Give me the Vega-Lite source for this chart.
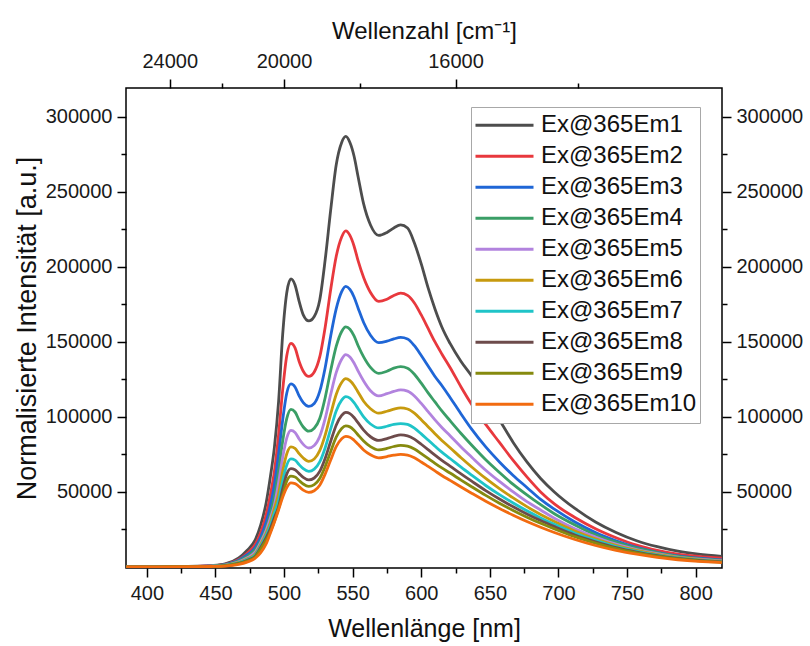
{
  "$schema": "https://vega.github.io/schema/vega-lite/v6.json",
  "width": 596,
  "height": 480,
  "autosize": {"type": "none"},
  "padding": {"left": 126, "top": 88, "right": 88, "bottom": 78},
  "background": "white",
  "config": {
    "font": "Liberation Sans",
    "view": {"stroke": "#000", "strokeWidth": 1.5},
    "axis": {
      "domain": false, "grid": false, "tickColor": "#000", "tickWidth": 1.5,
      "labelFont": "Liberation Sans", "labelFontSize": 20, "labelColor": "#1a1a1a",
      "titleFont": "Liberation Sans", "titleFontSize": 24, "titleFontWeight": "normal", "titleColor": "#111",
      "labelOverlap": false, "labelFlush": false
    }
  },
  "data": {"values": [
    {"wl":385,"Ex@365Em1":0,"Ex@365Em2":0,"Ex@365Em3":0,"Ex@365Em4":0,"Ex@365Em5":0,"Ex@365Em6":0,"Ex@365Em7":0,"Ex@365Em8":0,"Ex@365Em9":0,"Ex@365Em10":0},
    {"wl":397,"Ex@365Em1":100,"Ex@365Em2":100,"Ex@365Em3":100,"Ex@365Em4":100,"Ex@365Em5":100,"Ex@365Em6":80,"Ex@365Em7":80,"Ex@365Em8":70,"Ex@365Em9":60,"Ex@365Em10":50},
    {"wl":417,"Ex@365Em1":200,"Ex@365Em2":200,"Ex@365Em3":200,"Ex@365Em4":200,"Ex@365Em5":150,"Ex@365Em6":150,"Ex@365Em7":150,"Ex@365Em8":130,"Ex@365Em9":120,"Ex@365Em10":100},
    {"wl":437,"Ex@365Em1":500,"Ex@365Em2":450,"Ex@365Em3":400,"Ex@365Em4":350,"Ex@365Em5":300,"Ex@365Em6":300,"Ex@365Em7":280,"Ex@365Em8":250,"Ex@365Em9":230,"Ex@365Em10":200},
    {"wl":447,"Ex@365Em1":900,"Ex@365Em2":800,"Ex@365Em3":700,"Ex@365Em4":600,"Ex@365Em5":550,"Ex@365Em6":500,"Ex@365Em7":450,"Ex@365Em8":400,"Ex@365Em9":350,"Ex@365Em10":300},
    {"wl":457,"Ex@365Em1":2000,"Ex@365Em2":1800,"Ex@365Em3":1600,"Ex@365Em4":1400,"Ex@365Em5":1200,"Ex@365Em6":1100,"Ex@365Em7":1000,"Ex@365Em8":900,"Ex@365Em9":800,"Ex@365Em10":600},
    {"wl":467,"Ex@365Em1":6000,"Ex@365Em2":5000,"Ex@365Em3":4500,"Ex@365Em4":4000,"Ex@365Em5":3500,"Ex@365Em6":3000,"Ex@365Em7":2700,"Ex@365Em8":2400,"Ex@365Em9":2200,"Ex@365Em10":1700},
    {"wl":473,"Ex@365Em1":11000,"Ex@365Em2":9000,"Ex@365Em3":8000,"Ex@365Em4":7000,"Ex@365Em5":6000,"Ex@365Em6":5300,"Ex@365Em7":4800,"Ex@365Em8":4300,"Ex@365Em9":3900,"Ex@365Em10":3200},
    {"wl":479,"Ex@365Em1":18000,"Ex@365Em2":15000,"Ex@365Em3":13000,"Ex@365Em4":11500,"Ex@365Em5":10000,"Ex@365Em6":8800,"Ex@365Em7":8000,"Ex@365Em8":7200,"Ex@365Em9":6600,"Ex@365Em10":5800},
    {"wl":483,"Ex@365Em1":28000,"Ex@365Em2":23000,"Ex@365Em3":20000,"Ex@365Em4":17500,"Ex@365Em5":16500,"Ex@365Em6":15000,"Ex@365Em7":14000,"Ex@365Em8":13000,"Ex@365Em9":12000,"Ex@365Em10":9500},
    {"wl":487,"Ex@365Em1":43000,"Ex@365Em2":35000,"Ex@365Em3":30000,"Ex@365Em4":26000,"Ex@365Em5":24500,"Ex@365Em6":22500,"Ex@365Em7":21000,"Ex@365Em8":19500,"Ex@365Em9":18000,"Ex@365Em10":15500},
    {"wl":490,"Ex@365Em1":60000,"Ex@365Em2":48000,"Ex@365Em3":41000,"Ex@365Em4":35000,"Ex@365Em5":32500,"Ex@365Em6":29500,"Ex@365Em7":27500,"Ex@365Em8":25500,"Ex@365Em9":23500,"Ex@365Em10":22500},
    {"wl":493,"Ex@365Em1":80000,"Ex@365Em2":64000,"Ex@365Em3":55000,"Ex@365Em4":47000,"Ex@365Em5":41500,"Ex@365Em6":39000,"Ex@365Em7":36000,"Ex@365Em8":33000,"Ex@365Em9":30500,"Ex@365Em10":30000},
    {"wl":496,"Ex@365Em1":110000,"Ex@365Em2":88000,"Ex@365Em3":75000,"Ex@365Em4":64000,"Ex@365Em5":56000,"Ex@365Em6":49000,"Ex@365Em7":44000,"Ex@365Em8":40000,"Ex@365Em9":39000,"Ex@365Em10":38000},
    {"wl":499,"Ex@365Em1":155000,"Ex@365Em2":118000,"Ex@365Em3":98000,"Ex@365Em4":84000,"Ex@365Em5":73000,"Ex@365Em6":64000,"Ex@365Em7":57500,"Ex@365Em8":52000,"Ex@365Em9":48000,"Ex@365Em10":46500},
    {"wl":502,"Ex@365Em1":183000,"Ex@365Em2":141000,"Ex@365Em3":116000,"Ex@365Em4":99000,"Ex@365Em5":86000,"Ex@365Em6":75500,"Ex@365Em7":68000,"Ex@365Em8":62000,"Ex@365Em9":57300,"Ex@365Em10":53000},
    {"wl":505,"Ex@365Em1":192000,"Ex@365Em2":149000,"Ex@365Em3":122000,"Ex@365Em4":105000,"Ex@365Em5":91000,"Ex@365Em6":80000,"Ex@365Em7":72000,"Ex@365Em8":65500,"Ex@365Em9":60500,"Ex@365Em10":56000},
    {"wl":508,"Ex@365Em1":188000,"Ex@365Em2":146000,"Ex@365Em3":120000,"Ex@365Em4":103300,"Ex@365Em5":89700,"Ex@365Em6":79000,"Ex@365Em7":71200,"Ex@365Em8":64800,"Ex@365Em9":60000,"Ex@365Em10":55600},
    {"wl":511,"Ex@365Em1":177000,"Ex@365Em2":137000,"Ex@365Em3":114000,"Ex@365Em4":97700,"Ex@365Em5":85300,"Ex@365Em6":75500,"Ex@365Em7":68200,"Ex@365Em8":62200,"Ex@365Em9":57600,"Ex@365Em10":53500},
    {"wl":514,"Ex@365Em1":168000,"Ex@365Em2":130500,"Ex@365Em3":109500,"Ex@365Em4":93300,"Ex@365Em5":81700,"Ex@365Em6":72600,"Ex@365Em7":65500,"Ex@365Em8":59700,"Ex@365Em9":55300,"Ex@365Em10":51200},
    {"wl":518,"Ex@365Em1":164000,"Ex@365Em2":127000,"Ex@365Em3":107000,"Ex@365Em4":90500,"Ex@365Em5":79300,"Ex@365Em6":70400,"Ex@365Em7":63700,"Ex@365Em8":58000,"Ex@365Em9":53700,"Ex@365Em10":49700},
    {"wl":522,"Ex@365Em1":167000,"Ex@365Em2":130000,"Ex@365Em3":109000,"Ex@365Em4":92500,"Ex@365Em5":81000,"Ex@365Em6":72000,"Ex@365Em7":65200,"Ex@365Em8":59300,"Ex@365Em9":54900,"Ex@365Em10":50800},
    {"wl":526,"Ex@365Em1":178000,"Ex@365Em2":140000,"Ex@365Em3":117000,"Ex@365Em4":99000,"Ex@365Em5":87000,"Ex@365Em6":77500,"Ex@365Em7":70000,"Ex@365Em8":63700,"Ex@365Em9":59000,"Ex@365Em10":54500},
    {"wl":530,"Ex@365Em1":205000,"Ex@365Em2":160000,"Ex@365Em3":133000,"Ex@365Em4":113000,"Ex@365Em5":99000,"Ex@365Em6":88000,"Ex@365Em7":79500,"Ex@365Em8":72500,"Ex@365Em9":67000,"Ex@365Em10":62000},
    {"wl":534,"Ex@365Em1":238000,"Ex@365Em2":185000,"Ex@365Em3":154000,"Ex@365Em4":131000,"Ex@365Em5":115000,"Ex@365Em6":102000,"Ex@365Em7":92000,"Ex@365Em8":83800,"Ex@365Em9":77000,"Ex@365Em10":71300},
    {"wl":538,"Ex@365Em1":268000,"Ex@365Em2":207000,"Ex@365Em3":172000,"Ex@365Em4":147000,"Ex@365Em5":129500,"Ex@365Em6":115000,"Ex@365Em7":104000,"Ex@365Em8":94500,"Ex@365Em9":86500,"Ex@365Em10":80200},
    {"wl":542,"Ex@365Em1":283000,"Ex@365Em2":220000,"Ex@365Em3":183500,"Ex@365Em4":157000,"Ex@365Em5":138500,"Ex@365Em6":123000,"Ex@365Em7":111200,"Ex@365Em8":101000,"Ex@365Em9":92300,"Ex@365Em10":85500},
    {"wl":545,"Ex@365Em1":287000,"Ex@365Em2":224000,"Ex@365Em3":187000,"Ex@365Em4":160000,"Ex@365Em5":141500,"Ex@365Em6":125500,"Ex@365Em7":113500,"Ex@365Em8":103000,"Ex@365Em9":94000,"Ex@365Em10":87000},
    {"wl":548,"Ex@365Em1":283000,"Ex@365Em2":221000,"Ex@365Em3":185000,"Ex@365Em4":158500,"Ex@365Em5":140000,"Ex@365Em6":124200,"Ex@365Em7":112500,"Ex@365Em8":102200,"Ex@365Em9":93400,"Ex@365Em10":86500},
    {"wl":551,"Ex@365Em1":274000,"Ex@365Em2":214000,"Ex@365Em3":180000,"Ex@365Em4":154000,"Ex@365Em5":136000,"Ex@365Em6":121000,"Ex@365Em7":109500,"Ex@365Em8":99600,"Ex@365Em9":91200,"Ex@365Em10":84500},
    {"wl":554,"Ex@365Em1":260000,"Ex@365Em2":204000,"Ex@365Em3":172500,"Ex@365Em4":147500,"Ex@365Em5":130500,"Ex@365Em6":116500,"Ex@365Em7":105500,"Ex@365Em8":96000,"Ex@365Em9":88000,"Ex@365Em10":81800},
    {"wl":558,"Ex@365Em1":242000,"Ex@365Em2":193000,"Ex@365Em3":163000,"Ex@365Em4":140000,"Ex@365Em5":124000,"Ex@365Em6":110500,"Ex@365Em7":100000,"Ex@365Em8":91200,"Ex@365Em9":84000,"Ex@365Em10":78000},
    {"wl":563,"Ex@365Em1":228000,"Ex@365Em2":183000,"Ex@365Em3":154500,"Ex@365Em4":133000,"Ex@365Em5":117500,"Ex@365Em6":105500,"Ex@365Em7":95300,"Ex@365Em8":86800,"Ex@365Em9":80200,"Ex@365Em10":74800},
    {"wl":569,"Ex@365Em1":221000,"Ex@365Em2":177000,"Ex@365Em3":149500,"Ex@365Em4":129000,"Ex@365Em5":114000,"Ex@365Em6":102500,"Ex@365Em7":92700,"Ex@365Em8":84400,"Ex@365Em9":78000,"Ex@365Em10":72700},
    {"wl":575,"Ex@365Em1":223000,"Ex@365Em2":178500,"Ex@365Em3":150500,"Ex@365Em4":130500,"Ex@365Em5":115500,"Ex@365Em6":103800,"Ex@365Em7":93800,"Ex@365Em8":85600,"Ex@365Em9":79000,"Ex@365Em10":73600},
    {"wl":580,"Ex@365Em1":226000,"Ex@365Em2":181000,"Ex@365Em3":152000,"Ex@365Em4":132500,"Ex@365Em5":117000,"Ex@365Em6":105200,"Ex@365Em7":95000,"Ex@365Em8":87000,"Ex@365Em9":80300,"Ex@365Em10":74500},
    {"wl":585,"Ex@365Em1":228000,"Ex@365Em2":182500,"Ex@365Em3":153000,"Ex@365Em4":133500,"Ex@365Em5":118000,"Ex@365Em6":106000,"Ex@365Em7":95600,"Ex@365Em8":88000,"Ex@365Em9":81000,"Ex@365Em10":75000},
    {"wl":590,"Ex@365Em1":226000,"Ex@365Em2":181000,"Ex@365Em3":152000,"Ex@365Em4":132500,"Ex@365Em5":117200,"Ex@365Em6":105300,"Ex@365Em7":95000,"Ex@365Em8":87400,"Ex@365Em9":80500,"Ex@365Em10":74600},
    {"wl":595,"Ex@365Em1":216000,"Ex@365Em2":176000,"Ex@365Em3":147500,"Ex@365Em4":128500,"Ex@365Em5":114000,"Ex@365Em6":102500,"Ex@365Em7":92500,"Ex@365Em8":85200,"Ex@365Em9":78600,"Ex@365Em10":72800},
    {"wl":600,"Ex@365Em1":202000,"Ex@365Em2":168000,"Ex@365Em3":141000,"Ex@365Em4":122500,"Ex@365Em5":109000,"Ex@365Em6":98200,"Ex@365Em7":88700,"Ex@365Em8":81800,"Ex@365Em9":75600,"Ex@365Em10":70000},
    {"wl":605,"Ex@365Em1":186000,"Ex@365Em2":159000,"Ex@365Em3":134000,"Ex@365Em4":116000,"Ex@365Em5":103500,"Ex@365Em6":93500,"Ex@365Em7":84600,"Ex@365Em8":78200,"Ex@365Em9":72400,"Ex@365Em10":67000},
    {"wl":610,"Ex@365Em1":172000,"Ex@365Em2":150000,"Ex@365Em3":127000,"Ex@365Em4":110000,"Ex@365Em5":98000,"Ex@365Em6":88800,"Ex@365Em7":80500,"Ex@365Em8":74500,"Ex@365Em9":69100,"Ex@365Em10":64000},
    {"wl":615,"Ex@365Em1":160000,"Ex@365Em2":142000,"Ex@365Em3":121000,"Ex@365Em4":104000,"Ex@365Em5":93000,"Ex@365Em6":84300,"Ex@365Em7":76500,"Ex@365Em8":71000,"Ex@365Em9":66000,"Ex@365Em10":61000},
    {"wl":621,"Ex@365Em1":149000,"Ex@365Em2":133000,"Ex@365Em3":113000,"Ex@365Em4":97500,"Ex@365Em5":87500,"Ex@365Em6":79500,"Ex@365Em7":72300,"Ex@365Em8":67200,"Ex@365Em9":62600,"Ex@365Em10":57700},
    {"wl":629,"Ex@365Em1":137000,"Ex@365Em2":120000,"Ex@365Em3":102000,"Ex@365Em4":89000,"Ex@365Em5":80000,"Ex@365Em6":72800,"Ex@365Em7":66500,"Ex@365Em8":62000,"Ex@365Em9":57900,"Ex@365Em10":53300},
    {"wl":637,"Ex@365Em1":127000,"Ex@365Em2":108000,"Ex@365Em3":91500,"Ex@365Em4":81000,"Ex@365Em5":73000,"Ex@365Em6":66500,"Ex@365Em7":61000,"Ex@365Em8":57000,"Ex@365Em9":53300,"Ex@365Em10":49000},
    {"wl":647,"Ex@365Em1":112000,"Ex@365Em2":95000,"Ex@365Em3":80000,"Ex@365Em4":71500,"Ex@365Em5":64500,"Ex@365Em6":59000,"Ex@365Em7":54300,"Ex@365Em8":50900,"Ex@365Em9":47700,"Ex@365Em10":43800},
    {"wl":657,"Ex@365Em1":98000,"Ex@365Em2":83000,"Ex@365Em3":70000,"Ex@365Em4":63000,"Ex@365Em5":57000,"Ex@365Em6":52200,"Ex@365Em7":48200,"Ex@365Em8":45300,"Ex@365Em9":42500,"Ex@365Em10":39000},
    {"wl":667,"Ex@365Em1":83000,"Ex@365Em2":71000,"Ex@365Em3":61000,"Ex@365Em4":55000,"Ex@365Em5":50000,"Ex@365Em6":46000,"Ex@365Em7":42600,"Ex@365Em8":40100,"Ex@365Em9":37700,"Ex@365Em10":34500},
    {"wl":677,"Ex@365Em1":70000,"Ex@365Em2":60000,"Ex@365Em3":53000,"Ex@365Em4":48000,"Ex@365Em5":43500,"Ex@365Em6":40200,"Ex@365Em7":37400,"Ex@365Em8":35300,"Ex@365Em9":33200,"Ex@365Em10":30300},
    {"wl":687,"Ex@365Em1":59000,"Ex@365Em2":50000,"Ex@365Em3":45000,"Ex@365Em4":41500,"Ex@365Em5":38000,"Ex@365Em6":35000,"Ex@365Em7":32700,"Ex@365Em8":30900,"Ex@365Em9":29100,"Ex@365Em10":26500},
    {"wl":697,"Ex@365Em1":50000,"Ex@365Em2":42000,"Ex@365Em3":38500,"Ex@365Em4":35500,"Ex@365Em5":32500,"Ex@365Em6":30300,"Ex@365Em7":28400,"Ex@365Em8":26900,"Ex@365Em9":25400,"Ex@365Em10":23000},
    {"wl":712,"Ex@365Em1":39000,"Ex@365Em2":33000,"Ex@365Em3":30000,"Ex@365Em4":28000,"Ex@365Em5":25500,"Ex@365Em6":24000,"Ex@365Em7":22500,"Ex@365Em8":21300,"Ex@365Em9":20200,"Ex@365Em10":18300},
    {"wl":727,"Ex@365Em1":30000,"Ex@365Em2":25500,"Ex@365Em3":23000,"Ex@365Em4":21500,"Ex@365Em5":20000,"Ex@365Em6":18800,"Ex@365Em7":17700,"Ex@365Em8":16800,"Ex@365Em9":15900,"Ex@365Em10":14300},
    {"wl":742,"Ex@365Em1":23000,"Ex@365Em2":19500,"Ex@365Em3":17500,"Ex@365Em4":16500,"Ex@365Em5":15200,"Ex@365Em6":14400,"Ex@365Em7":13600,"Ex@365Em8":12900,"Ex@365Em9":12200,"Ex@365Em10":11000},
    {"wl":757,"Ex@365Em1":17500,"Ex@365Em2":14500,"Ex@365Em3":13000,"Ex@365Em4":12500,"Ex@365Em5":11600,"Ex@365Em6":11000,"Ex@365Em7":10400,"Ex@365Em8":9900,"Ex@365Em9":9400,"Ex@365Em10":8500},
    {"wl":772,"Ex@365Em1":13500,"Ex@365Em2":11000,"Ex@365Em3":9700,"Ex@365Em4":9500,"Ex@365Em5":8800,"Ex@365Em6":8300,"Ex@365Em7":7900,"Ex@365Em8":7500,"Ex@365Em9":7100,"Ex@365Em10":6400},
    {"wl":787,"Ex@365Em1":10500,"Ex@365Em2":8500,"Ex@365Em3":7300,"Ex@365Em4":7100,"Ex@365Em5":6600,"Ex@365Em6":6300,"Ex@365Em7":6000,"Ex@365Em8":5700,"Ex@365Em9":5400,"Ex@365Em10":4800},
    {"wl":802,"Ex@365Em1":8500,"Ex@365Em2":7000,"Ex@365Em3":5800,"Ex@365Em4":5600,"Ex@365Em5":5200,"Ex@365Em6":4900,"Ex@365Em7":4600,"Ex@365Em8":4400,"Ex@365Em9":4100,"Ex@365Em10":3700},
    {"wl":819,"Ex@365Em1":7000,"Ex@365Em2":5800,"Ex@365Em3":4700,"Ex@365Em4":4400,"Ex@365Em5":4100,"Ex@365Em6":3800,"Ex@365Em7":3600,"Ex@365Em8":3400,"Ex@365Em9":3200,"Ex@365Em10":2900}
  ]},
  "transform": [
    {"fold": ["Ex@365Em1","Ex@365Em2","Ex@365Em3","Ex@365Em4","Ex@365Em5","Ex@365Em6","Ex@365Em7","Ex@365Em8","Ex@365Em9","Ex@365Em10"], "as": ["series", "value"]}
  ],
  "layer": [
    {
      "mark": {"type": "line", "strokeWidth": 2.8, "interpolate": "monotone", "clip": true},
      "encoding": {
        "x": {"field": "wl", "type": "quantitative",
          "scale": {"domain": [384.8, 819.2], "nice": false, "zero": false},
          "axis": {"orient": "bottom", "values": [400,450,500,550,600,650,700,750,800], "format": "d", "tickSize": 9, "labelPadding": 6, "title": "Wellenlänge [nm]", "titleFontSize": 25, "titlePadding": 13}},
        "y": {"field": "value", "type": "quantitative",
          "scale": {"domain": [-700, 319300], "nice": false, "zero": false},
          "axis": {"orient": "left", "values": [50000,100000,150000,200000,250000,300000], "format": "d", "tickSize": 9, "labelPadding": 5, "title": "Normalisierte Intensität [a.u.]", "titleFontSize": 27, "titleX": -99, "titleY": 240, "titleAngle": 270, "titleBaseline": "middle", "titleAlign": "center"}},
        "color": {"field": "series", "type": "nominal",
          "scale": {
            "domain": ["Ex@365Em1","Ex@365Em2","Ex@365Em3","Ex@365Em4","Ex@365Em5","Ex@365Em6","Ex@365Em7","Ex@365Em8","Ex@365Em9","Ex@365Em10"],
            "range": ["#4d4d4d","#e8383d","#1f66d6","#3a9e66","#b283de","#c79a0e","#1fc4c8","#6d4b4b","#868a0f","#f26b10"]
          },
          "legend": {
            "orient": "none", "legendX": 345, "legendY": 19, "title": null,
            "symbolType": "stroke", "symbolSize": 3364, "symbolStrokeWidth": 3,
            "labelFont": "Liberation Sans", "labelFontSize": 24, "labelColor": "#111",
            "clipHeight": 30.5, "rowPadding": 0, "padding": 3,
            "strokeColor": "#a8a8a8", "fillColor": "#ffffff",
            "labelOffset": 6, "symbolOffset": 0, "labelLimit": 300
          }
        }
      }
    },
    {
      "mark": {"type": "point", "opacity": 0},
      "encoding": {
        "x": {"field": "wl", "type": "quantitative",
          "scale": {"domain": [384.8, 819.2], "nice": false, "zero": false},
          "axis": {"orient": "bottom", "values": [425,475,525,575,625,675,725,775], "tickSize": 5, "labels": false, "title": null}},
        "y": {"field": "value", "type": "quantitative",
          "scale": {"domain": [-700, 319300], "nice": false, "zero": false},
          "axis": {"orient": "left", "values": [25000,75000,125000,175000,225000,275000], "tickSize": 5, "labels": false, "title": null}}
      }
    },
    {
      "mark": {"type": "point", "opacity": 0},
      "encoding": {
        "x": {"field": "wl", "type": "quantitative",
          "scale": {"domain": [384.8, 819.2], "nice": false, "zero": false},
          "axis": {"orient": "top", "values": [416.6667, 500, 625], "labelExpr": "format(round(10000000/datum.value), 'd')", "tickSize": 9, "labelPadding": 8, "title": "Wellenzahl [cm⁻¹]", "titlePadding": 8}},
        "y": {"field": "value", "type": "quantitative",
          "scale": {"domain": [-700, 319300], "nice": false, "zero": false},
          "axis": {"orient": "right", "values": [50000,100000,150000,200000,250000,300000], "format": "d", "tickSize": 9, "labelPadding": 5, "title": null}}
      }
    },
    {
      "mark": {"type": "point", "opacity": 0},
      "encoding": {
        "x": {"field": "wl", "type": "quantitative",
          "scale": {"domain": [384.8, 819.2], "nice": false, "zero": false},
          "axis": {"orient": "top", "values": [454.5455, 555.5556, 714.2857], "tickSize": 5, "labels": false, "title": null}},
        "y": {"field": "value", "type": "quantitative",
          "scale": {"domain": [-700, 319300], "nice": false, "zero": false},
          "axis": {"orient": "right", "values": [25000,75000,125000,175000,225000,275000], "tickSize": 5, "labels": false, "title": null}}
      }
    }
  ],
  "resolve": {"axis": {"x": "independent", "y": "independent"}}
}
